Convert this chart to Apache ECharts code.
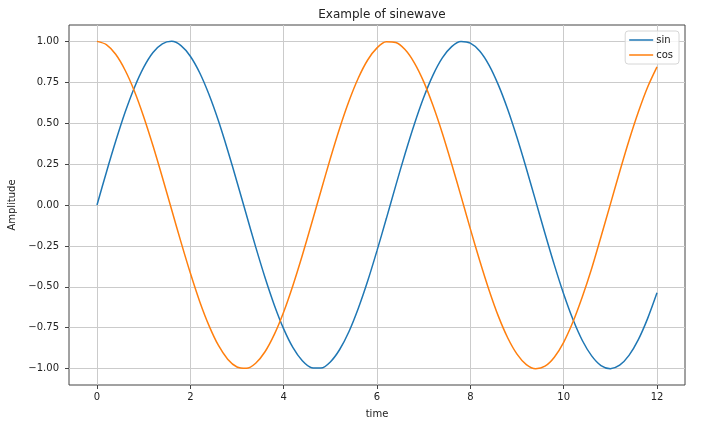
<!DOCTYPE html>
<html>
<head>
<meta charset="utf-8">
<script src="https://cdn.jsdelivr.net/npm/echarts@6/dist/echarts.min.js"></script>
<style>html,body{margin:0;padding:0;background:#fff;}#c{width:711px;height:422px;}</style>
</head>
<body>
<div id="c"></div>
<script>
const timeValues = [0.0,0.2,0.4,0.6,0.8,1.0,1.2,1.4,1.6,1.8,2.0,2.2,2.4,2.6,2.8,3.0,3.2,3.4,3.6,3.8,4.0,4.2,4.4,4.6,4.8,5.0,5.2,5.4,5.6,5.8,6.0,6.2,6.4,6.6,6.8,7.0,7.2,7.4,7.6,7.8,8.0,8.2,8.4,8.6,8.8,9.0,9.2,9.4,9.6,9.8,10.0,10.2,10.4,10.6,10.8,11.0,11.2,11.4,11.6,11.8,12.0];
const sinValues = [0.000,0.199,0.389,0.565,0.717,0.841,0.932,0.985,1.000,0.974,0.909,0.808,0.675,0.516,0.335,0.141,-0.058,-0.256,-0.443,-0.612,-0.757,-0.872,-0.952,-0.994,-0.996,-0.959,-0.883,-0.773,-0.631,-0.465,-0.279,-0.083,0.117,0.312,0.494,0.657,0.794,0.899,0.968,0.999,0.989,0.941,0.855,0.734,0.585,0.412,0.223,0.025,-0.174,-0.366,-0.544,-0.700,-0.828,-0.922,-0.981,-1.000,-0.979,-0.919,-0.823,-0.693,-0.537];
const cosValues = [1.000,0.980,0.921,0.825,0.697,0.540,0.362,0.170,-0.029,-0.227,-0.416,-0.589,-0.737,-0.857,-0.942,-0.990,-0.998,-0.967,-0.897,-0.791,-0.654,-0.490,-0.307,-0.112,0.087,0.284,0.469,0.635,0.776,0.886,0.960,0.997,0.993,0.950,0.869,0.754,0.608,0.439,0.251,0.054,-0.146,-0.339,-0.519,-0.679,-0.811,-0.911,-0.975,-1.000,-0.985,-0.930,-0.839,-0.714,-0.561,-0.388,-0.194,0.004,0.203,0.394,0.568,0.721,0.844];
const xTicks = [0,2,4,6,8,10,12];
const yTicks = [-1.00,-0.75,-0.50,-0.25,0.00,0.25,0.50,0.75,1.00];
const seriesNames = ['sin','cos'];

const font = 'DejaVu Sans';
const chart = echarts.init(document.getElementById('c'), null, {renderer:'canvas'});
const gridLine = {show:true, lineStyle:{color:'#cbcbcb', width:1}};
chart.setOption({
  animation:false,
  color:['#1f77b4','#ff7f0e'],
  title:{text:'Example of sinewave', left:377, textAlign:'center', top:4,
    textStyle:{fontFamily:font, fontSize:12, fontWeight:'normal', color:'#222'}},
  legend:{right:32, top:31, orient:'vertical', itemWidth:24, itemHeight:10, itemGap:5,
    padding:[4,6,4,4], borderColor:'#d6d6d6', borderWidth:1, borderRadius:3, backgroundColor:'rgba(255,255,255,0.8)',
    textStyle:{fontFamily:font, fontSize:10, color:'#222', padding:[0,0,0,-2]},
    data:seriesNames.map(n=>({name:n, icon:'path://M0,0 L24,0 L24,1.5 L0,1.5 Z'}))},
  grid:{left:69, right:26, top:25, bottom:37, outerBoundsMode:'none', containLabel:false,
    show:true, borderColor:'#444', borderWidth:1, backgroundColor:'transparent'},
  xAxis:{type:'value', min:-0.6, max:12.6, name:'time', nameLocation:'middle', nameGap:24,
    nameTextStyle:{fontFamily:font, fontSize:10, color:'#222'},
    axisLine:{show:false, onZero:false}, axisTick:{show:true, customValues:xTicks, length:4, lineStyle:{color:'#444'}},
    axisLabel:{customValues:xTicks, fontFamily:font, fontSize:10, color:'#222', margin:7, formatter:v=>String(v)},
    splitLine:gridLine},
  yAxis:{type:'value', min:-1.1, max:1.1, name:'Amplitude', nameLocation:'middle', nameGap:49, nameRotate:90,
    nameTextStyle:{fontFamily:font, fontSize:10, color:'#222'},
    axisLine:{show:false, onZero:false}, axisTick:{show:true, customValues:yTicks, length:4, lineStyle:{color:'#444'}},
    axisLabel:{customValues:yTicks, fontFamily:font, fontSize:10, color:'#222', margin:10,
      formatter:v=>(v<0?'\u2212':'')+Math.abs(v).toFixed(2)},
    splitLine:gridLine},
  series:[
    {name:seriesNames[0], type:'line', showSymbol:false, smooth:0.3, lineStyle:{width:1.5}, data:timeValues.map((t,i)=>[t,sinValues[i]])},
    {name:seriesNames[1], type:'line', showSymbol:false, smooth:0.3, lineStyle:{width:1.5}, data:timeValues.map((t,i)=>[t,cosValues[i]])}
  ]
});
</script>
</body>
</html>
